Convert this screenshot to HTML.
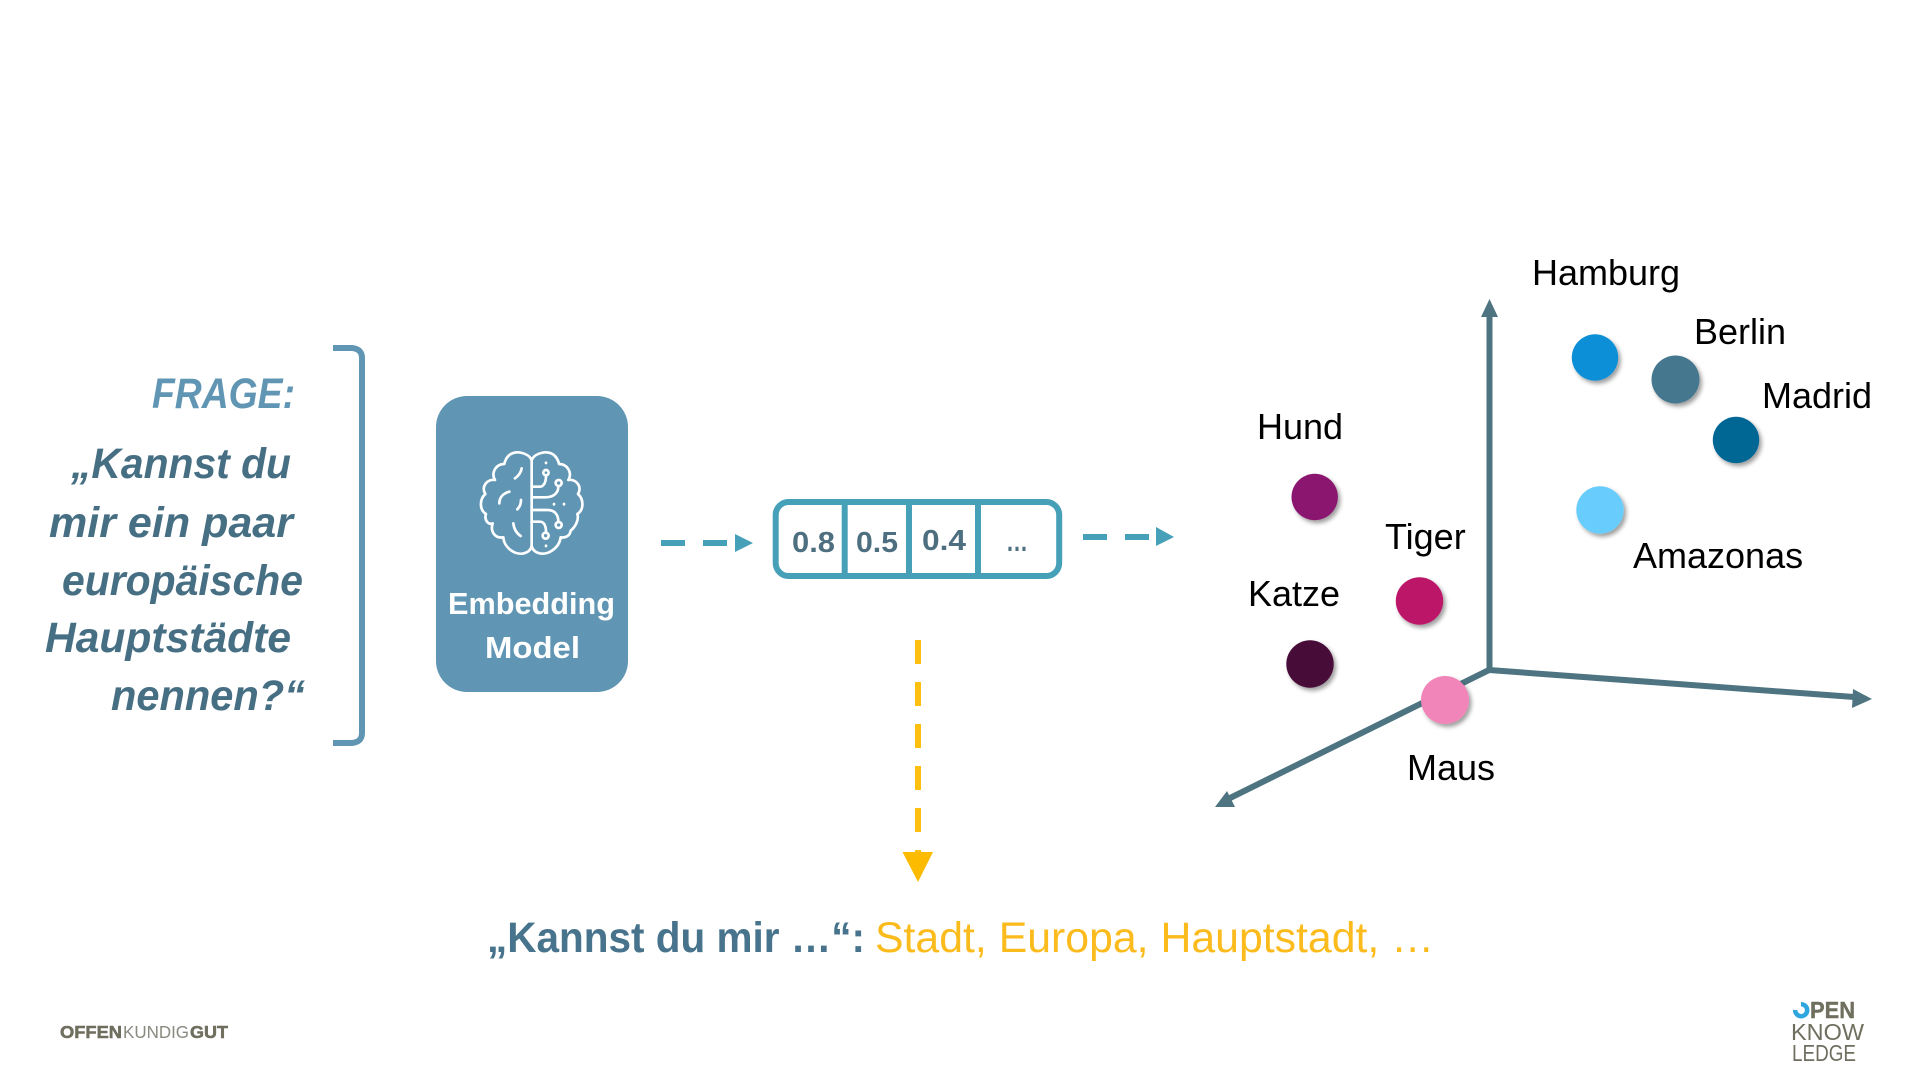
<!DOCTYPE html>
<html><head><meta charset="utf-8"><style>html,body{margin:0;padding:0;background:#fff}svg{display:block}</style></head><body>
<svg xmlns="http://www.w3.org/2000/svg" width="1920" height="1080" viewBox="0 0 1920 1080" font-family="'Liberation Sans',sans-serif">
<defs><filter id="s" x="-30%" y="-30%" width="170%" height="170%"><feDropShadow dx="2.500" dy="3" stdDeviation="2.200" flood-color="#000" flood-opacity=".38"/></filter></defs>
<rect width="1920" height="1080" fill="#fff"/>
<path d="M333 348H352Q362 349 362 358V733Q362 742 352 743H333" fill="none" stroke="#6096b4" stroke-width="6"/>
<g font-weight="bold" font-style="italic" font-size="43" fill="#476f84">
<text x="152" y="408" textLength="143" lengthAdjust="spacingAndGlyphs" fill="#6096b4">FRAGE:</text>
<text x="71" y="478" textLength="220" lengthAdjust="spacingAndGlyphs">„Kannst du</text>
<text x="49" y="537" textLength="244" lengthAdjust="spacingAndGlyphs">mir ein paar</text>
<text x="62" y="595" textLength="241" lengthAdjust="spacingAndGlyphs">europäische</text>
<text x="45" y="652" textLength="246" lengthAdjust="spacingAndGlyphs">Hauptstädte</text>
<text x="111" y="710" textLength="194" lengthAdjust="spacingAndGlyphs">nennen?“</text>
</g>
<rect x="436" y="396" width="192" height="296" rx="31" fill="#6096b4"/>
<g transform="translate(460 440) scale(.3333)" fill="none" stroke="#fff" stroke-width="8" stroke-linecap="round" stroke-linejoin="round">
<path d="M215 55V322"/>
<path d="M215 60C205 38 165 28 145 48C135 58 133 72 133 72C108 72 92 98 105 120C82 116 62 140 76 162C58 178 58 210 78 222C72 240 85 256 98 250C90 275 105 296 130 292C132 325 170 350 198 338C208 334 213 326 215 318"/>
<path d="M215 60C225 38 265 28 285 48C295 58 297 72 297 72C322 72 338 98 325 120C348 116 368 140 354 162C372 178 372 210 352 222C358 240 345 262 332 272C330 285 320 295 302 292C298 325 260 350 232 338C222 334 217 326 215 318"/>
<path d="M185 85C183 98 175 108 165 115M148 155C130 160 118 172 118 190M183 180C183 192 178 202 172 208M160 250C162 268 170 280 182 288"/>
<path d="M215 140H240C252 140 258 125 258 108M215 172H255C280 172 295 160 295 140M215 210H262C285 210 295 225 295 245M215 245H240C252 245 258 258 258 275"/>
<circle cx="258" cy="98" r="8"/><circle cx="296" cy="129" r="9"/><circle cx="296" cy="255" r="9"/><circle cx="257" cy="287" r="9"/>
<path d="M258 68v1M258 317v1M282 192v1M312 192v1"/>
</g>
<g font-weight="bold" font-size="31" fill="#fff">
<text x="448" y="614" textLength="167" lengthAdjust="spacingAndGlyphs">Embedding</text>
<text x="485" y="658" textLength="95" lengthAdjust="spacingAndGlyphs">Model</text>
</g>
<g stroke="#46a0b8" stroke-width="6" fill="none">
<path d="M661 543H685M703 543H727M1083 537H1107M1125 537H1149"/>
<rect x="775.700" y="502" width="283.500" height="74" rx="13"/>
<path d="M844.700 502V576M909 502V576M978 502V576"/>
</g>
<path d="M735 534L753 543L735 552ZM1156 527L1174 537L1156 546Z" fill="#46a0b8"/>
<g font-weight="bold" font-size="29" fill="#4d6f80">
<text x="792" y="552" textLength="43" lengthAdjust="spacingAndGlyphs">0.8</text>
<text x="856" y="552" textLength="42" lengthAdjust="spacingAndGlyphs">0.5</text>
<text x="922" y="550" textLength="44" lengthAdjust="spacingAndGlyphs">0.4</text>
<text x="1006" y="551" textLength="22" lengthAdjust="spacingAndGlyphs">…</text>
</g>
<path d="M918 640V664M918 682V706M918 724V748M918 766V790M918 808V832M918 850V856" stroke="#fdbf10" stroke-width="6" fill="none"/>
<path d="M902.500 852H933L918 882Z" fill="#fdbb00"/>
<g stroke="#4e7482" stroke-width="6" fill="none">
<path d="M1489.500 672V315"/>
<path d="M1489 670L1854 697"/>
<path d="M1489 670L1226 800"/>
</g>
<path d="M1489.500 299L1481 317H1498ZM1872 699L1853 689L1852 708ZM1215 807L1235 807L1227 791Z" fill="#4e7482"/>
<g filter="url(#s)">
<circle cx="1595" cy="357.500" r="23.200" fill="#0a8fd8"/>
<circle cx="1675.500" cy="379.500" r="24" fill="#45788f"/>
<circle cx="1736" cy="440" r="23.200" fill="#056694"/>
<circle cx="1600" cy="510" r="23.700" fill="#68cdfc"/>
<circle cx="1314.700" cy="497" r="23.200" fill="#8b1870"/>
<circle cx="1419.500" cy="601" r="23.700" fill="#bc1668"/>
<circle cx="1310" cy="664" r="23.700" fill="#470a39"/>
<circle cx="1445" cy="700" r="24" fill="#f184b8"/>
</g>
<g font-size="36" fill="#000">
<text x="1532" y="285">Hamburg</text>
<text x="1694" y="344">Berlin</text>
<text x="1762" y="408">Madrid</text>
<text x="1633" y="568">Amazonas</text>
<text x="1257" y="439">Hund</text>
<text x="1385" y="549">Tiger</text>
<text x="1248" y="606">Katze</text>
<text x="1407" y="780">Maus</text>
</g>
<g font-size="43">
<text x="487" y="952" textLength="378" lengthAdjust="spacingAndGlyphs" font-weight="bold" fill="#47748c">„Kannst du mir …“:</text>
<text x="875" y="952" textLength="559" lengthAdjust="spacingAndGlyphs" fill="#fcbb1c">Stadt, Europa, Hauptstadt, …</text>
</g>
<g font-size="17.500" fill="#6f6e5f">
<text x="60" y="1038" textLength="62" lengthAdjust="spacingAndGlyphs" font-weight="bold" stroke="#6f6e5f" stroke-width=".5">OFFEN</text>
<text x="123" y="1038" textLength="66" lengthAdjust="spacingAndGlyphs" fill="#8a897f">KUNDIG</text>
<text x="190" y="1038" textLength="38" lengthAdjust="spacingAndGlyphs" font-weight="bold" stroke="#6f6e5f" stroke-width=".5">GUT</text>
</g>
<path d="M1801 1004.200A6 6 0 1 1 1795.200 1010" fill="none" stroke="#2ea6de" stroke-width="4.500"/>
<g font-size="23" fill="#6f6e5f">
<text x="1810" y="1018" textLength="45" lengthAdjust="spacingAndGlyphs" font-weight="bold" stroke="#6f6e5f" stroke-width=".4">PEN</text>
<text x="1791" y="1040" textLength="73" lengthAdjust="spacingAndGlyphs">KNOW</text>
<text x="1792" y="1061" textLength="64" lengthAdjust="spacingAndGlyphs">LEDGE</text>
</g>
</svg>
</body></html>
